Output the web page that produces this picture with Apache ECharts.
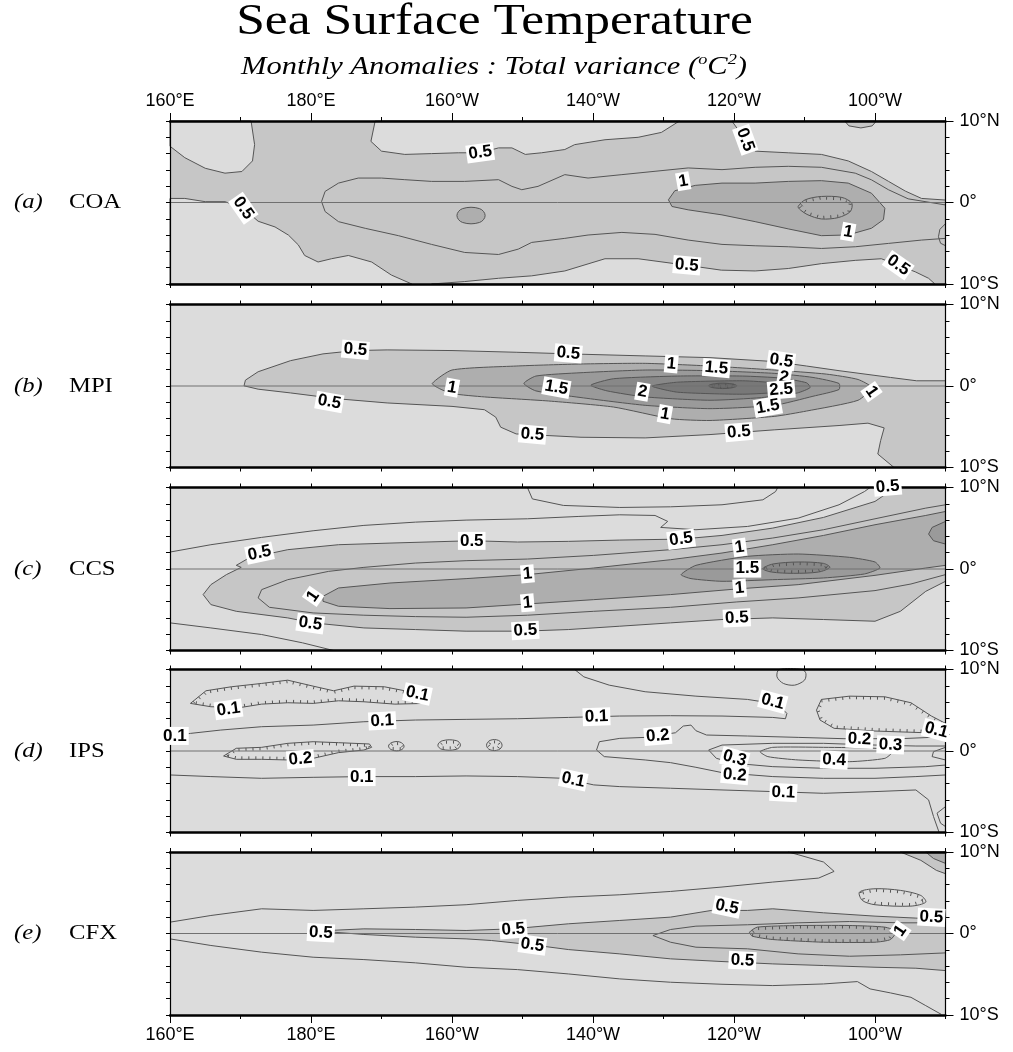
<!DOCTYPE html>
<html>
<head>
<meta charset="utf-8">
<script src="https://cdn.jsdelivr.net/npm/echarts@6/dist/echarts.min.js"></script>
<style>
  html, body { margin: 0; padding: 0; background: #ffffff; }
  #chart { width: 1013px; height: 1052px; }
</style>
</head>
<body>
<div id="chart"></div>
<script>
// ---------- axes ----------
const LON_RANGE = [160, 270];          // 160°E .. 90°W, degrees east
const LAT_RANGE = [-10, 10];
const LON_MAJOR = [160, 180, 200, 220, 240, 260];
const LAT_MAJOR = [-10, 0, 10];
const PANEL_NAMES = ['COA', 'MPI', 'CCS', 'IPS', 'CFX'];
const PANEL_LETTERS = ['(a)', '(b)', '(c)', '(d)', '(e)'];
const PANEL_BOX = [[160, -10], [270, -10], [270, 10], [160, 10]];
const EQUATOR = [[160, 0], [270, 0]];

// ---------- (a) COA : contour regions [lon, lat] ----------
const COA_LOW_NW = [[160,10],[160,6.9],[162.1,5.5],[165,4.2],[167.8,3.6],[170.2,3.8],[171.7,5.1],[172,7.1],[171.5,10]];
const COA_LOW_N = [[189.1,10],[188.5,7.5],[190,6.3],[193.3,5.9],[197.1,6.0],[200.9,6.1],[204,6.1],[206.6,6.7],[208.5,6.7],[210.4,5.9],[212.7,6.1],[216,6.5],[217.4,7.1],[221.7,7.7],[226.4,8.0],[229.7,8.6],[231.9,9.8],[232.3,10]];
const COA_LOW_NE = [[239.7,10],[241.6,7.7],[243,6.3],[247.7,6.1],[252.4,5.9],[256.2,5.1],[259.5,3.8],[261.9,2.6],[264.3,1.4],[266.6,0.5],[270,0.3],[270,10]];
const COA_LOW_SW = [[160,0.5],[162.1,0.5],[165,0.1],[167.8,0.1],[170.4,-0.7],[172.5,-2.3],[174.9,-3.0],[176.8,-4.0],[178.2,-5.2],[179.1,-6.5],[181,-7.3],[182.9,-6.9],[185.3,-6.5],[188.6,-7.3],[191.4,-8.9],[194.3,-10],[160,-10]];
const COA_LOW_S = [[197.1,-10],[201.8,-9.7],[206.6,-9.3],[211.3,-9.0],[216,-8.4],[221.7,-6.9],[226.4,-6.9],[233.3,-7.7],[238.2,-8.3],[243,-8.4],[247.7,-8.1],[252.4,-7.5],[257.2,-7.1],[260.9,-6.9],[263.3,-7.7],[265.7,-8.5],[267.6,-9.3],[268.5,-10]];
const COA_MID_NE = [[255.7,10],[256.3,9.4],[258,9.15],[259.6,9.4],[260.2,10]];
const COA_HIGH = [[230.7,0.33],[231.6,1.44],[234.5,2.1],[238.3,2.38],[243,2.38],[247.7,2.59],[252.4,2.68],[256.2,2.38],[259.5,1.14],[261.4,-0.7],[261.2,-2.1],[259.5,-3.16],[256.2,-3.98],[252.4,-4.07],[247.7,-3.24],[243,-2.35],[238.3,-1.52],[233.5,-0.9],[231.2,-0.49]];
const COA_HIGH_W = [[200.7,-1.6],[201.5,-0.75],[203.9,-0.75],[204.7,-1.6],[203.9,-2.45],[201.5,-2.45]];
const COA_RING = [[249.1,-0.49],[250.1,0.33],[252.4,0.74],[255.3,0.62],[256.7,-0.08],[256.5,-1.11],[254.8,-1.85],[252.4,-2.02],[250.5,-1.52],[249.4,-0.9]];
const COA_MID_LINE = [[270,-0.3],[264.7,0.45],[261.9,1.57],[259.5,2.78],[257.2,3.6],[252.4,4.32],[247.7,4.44],[243,4.32],[238.3,4.03],[233.5,4.24],[228.8,3.83],[224.1,3.42],[219.3,3.0],[216,3.42],[212.2,1.98],[209.9,1.57],[208.5,1.98],[206.6,2.8],[201.8,2.59],[197.1,2.59],[193.3,2.8],[190,3.0],[186.7,3.0],[183.9,2.38],[182,1.36],[181.5,0.12],[182,-1.11],[183.9,-2.35],[187.7,-3.17],[192.4,-4.07],[197.1,-5.14],[201.8,-6.13],[206.6,-6.38],[209.4,-5.72],[211.3,-4.9],[216,-4.4],[219.3,-3.99],[224.1,-3.67],[228.8,-3.91],[233.5,-4.61],[238.3,-5.14],[243,-5.31],[247.7,-5.43],[252.4,-5.64],[257.2,-5.43],[261.9,-5.02],[266.6,-4.61],[270,-4.4]];
const COA_EDGE_LINE = [[270,-2.6],[269.2,-3.3],[269,-4.2],[269.3,-5],[270,-5.3]];
const COA_LABELS = [
  [204.0, 6.1, '0.5', -8], [170.4, -0.7, '0.5', 55], [241.6, 7.7, '0.5', 70],
  [232.8, 2.6, '1', -10], [256.2, -3.6, '1', 10], [233.3, -7.7, '0.5', 5], [263.3, -7.7, '0.5', 35]
];

// ---------- (b) MPI ----------
const MPI_05 = [[270,0.64],[265.9,0.64],[262.2,1.05],[254.9,1.88],[250.3,2.45],[245.7,3.0],[236.6,3.48],[227.4,3.69],[218.3,3.9],[209.1,4.14],[200,4.35],[190.8,4.43],[186.3,4.35],[181.7,3.94],[177.1,3.11],[172.5,1.75],[170.7,0.72],[170.5,0.02],[172.5,-0.39],[177.1,-0.85],[183.5,-1.55],[190.8,-2.08],[200,-2.5],[204.6,-2.91],[206.2,-3.82],[206.9,-5.05],[209.1,-5.88],[218.3,-6.29],[227.4,-6.37],[236.6,-5.96],[245.7,-5.38],[254.9,-4.85],[259,-4.56],[261.3,-5.14],[260.8,-6.7],[260.4,-8.35],[262.7,-10],[270,-10]];
const MPI_10 = [[197.2,0.31],[200,1.96],[209.1,2.45],[218.3,2.7],[227.4,2.78],[236.6,2.45],[245.7,1.96],[253.1,1.46],[257.6,0.8],[259.5,-0.19],[257.6,-1.75],[250.3,-3.07],[245.7,-3.73],[236.6,-4.23],[231.1,-4.02],[222.9,-2.58],[213.7,-1.84],[204.6,-1.34],[200,-0.93],[198.2,-0.31]];
const MPI_15 = [[210.2,0.31],[211.9,1.22],[218.3,1.63],[227.4,1.96],[236.6,1.88],[245.7,1.55],[251.2,1.05],[254.9,0.31],[254.9,-0.43],[251.2,-1.26],[245.7,-2.37],[236.6,-2.78],[227.4,-2.37],[218.3,-1.42],[211.9,-0.6]];
const MPI_20 = [[219.7,0.1],[222.9,0.89],[232,1.22],[241.2,1.22],[246.7,0.97],[250.3,0.39],[250.8,-0.19],[249,-0.85],[243.9,-1.42],[236.6,-1.75],[227.4,-1.34],[222,-0.6]];
const MPI_25 = [[228.4,-0.02],[232,0.47],[241.2,0.64],[245.7,0.39],[248.3,-0.1],[246.7,-0.72],[241.2,-1.01],[232,-0.76]];
const MPI_30 = [[236.4,0.02],[237.4,0.3],[239.4,0.3],[240.4,0.02],[239.4,-0.26],[237.4,-0.26]];
const MPI_LABELS = [
  [186.3, 4.45, '0.5', 5], [216.5, 4.0, '0.5', 5], [231.1, 2.7, '1', 5], [237.5, 2.2, '1.5', 5],
  [246.7, 3.1, '0.5', 8], [247.1, 1.05, '2', 10], [246.7, -0.45, '2.5', -5], [244.8, -2.55, '1.5', -10],
  [230.2, -3.45, '1', 10], [240.7, -5.65, '0.5', -5], [211.4, -5.95, '0.5', 5], [182.6, -1.95, '0.5', 10],
  [200.0, -0.2, '1', 10], [214.8, -0.2, '1.5', 10], [227.0, -0.7, '2', 10], [259.5, -0.7, '1', 55]
];

// ---------- (c) CCS ----------
const CCS_05 = [[169.4,0.45],[171.2,1.35],[176.7,2.37],[183.9,2.98],[191.2,3.18],[202.8,3.47],[209.3,3.31],[216.5,3.39],[223.8,3.55],[232.5,3.67],[238.3,4.12],[245.5,5.02],[252.7,6.33],[260,8.29],[262.9,10],[270,10],[270,-1.51],[267.2,-2.74],[263.6,-5.19],[260,-6.41],[252.7,-6.2],[245.5,-6.0],[238.3,-6.2],[231,-6.61],[223.8,-7.02],[216.5,-7.43],[210,-7.63],[202,-7.63],[194.8,-7.43],[187.5,-7.23],[180.3,-6.61],[176.7,-6.0],[169.4,-5.19],[165.8,-4.37],[164.7,-3.14],[165.8,-1.92],[168,-0.69],[170.1,0.2]];
const CCS_10 = [[181.7,-3.35],[183.9,-2.33],[191.2,-1.72],[202,-1.18],[210.7,-0.69],[220.1,0.12],[231,1.14],[238.3,1.96],[245.5,2.98],[252.7,4.12],[260,5.43],[267.2,6.57],[270,7.06],[270,0.45],[267.2,0.12],[260,-0.78],[249.1,-1.92],[240.4,-2.45],[231,-3.14],[220.1,-3.76],[210.7,-4.29],[202,-4.78],[191.2,-4.86],[183.9,-4.57],[181.7,-3.96]];
const CCS_15 = [[232.5,-0.69],[234.6,0.45],[241.9,1.55],[249.1,1.84],[256.4,1.43],[260,0.86],[260.7,0.12],[258.5,-0.61],[252.7,-1.1],[245.5,-1.31],[238.3,-1.51],[233.9,-1.18]];
const CCS_PEAK = [[244.1,0.04],[245.5,0.61],[249.1,0.86],[252.7,0.69],[253.6,0.2],[252,-0.37],[248.4,-0.53],[245.3,-0.37]];
const CCS_EDGE = [[270,5.84],[268.1,5.1],[267.6,4.29],[268.3,3.47],[270,3.06]];
const CCS_LINE_N = [[160,2.08],[165.8,2.98],[173,3.88],[180.3,4.69],[187.5,5.35],[194.8,5.75],[202,6.0],[210.7,6.16],[218,6.45],[223.8,6.65],[228.8,6.57],[230.6,5.84],[229.6,5.1],[234.6,4.82],[241.9,5.22],[249.1,6.24],[254.9,7.88],[258.5,9.5],[259.3,10]];
const CCS_LINE_TOP = [[210.7,10],[211.4,8.6],[215.8,7.8],[223.8,7.55],[231,7.63],[238.3,7.88],[244.1,8.49],[245.9,9.5],[246.2,10]];
const CCS_LINE_IN = [[270,7.88],[267.2,7.47],[260,6.16],[252.7,4.82],[245.5,3.8],[238.3,2.98],[231,2.37],[220.1,1.67],[210.7,1.22],[202,1.02],[194.8,0.73],[187.5,0.2],[182.5,-0.29],[176.7,-1.31],[173,-2.53],[172.5,-3.55],[174.1,-4.7],[180.3,-5.39],[187.5,-5.67],[194.8,-5.84],[202,-5.92],[210.7,-5.67],[220.1,-5.19],[231,-4.7],[240.4,-4.04],[249.1,-3.55],[260,-2.65],[265.1,-1.84],[270,-0.69]];
const CCS_LINE_SW = [[160,-6.61],[165.8,-7.23],[173,-8.04],[178.8,-9.06],[183.2,-10]];
const CCS_LABELS = [
  [172.7, 1.95, '0.5', -12], [202.8, 3.45, '0.5', 0], [232.5, 3.65, '0.5', -8], [261.8, 10.1, '0.5', -5],
  [240.8, 2.65, '1', -8], [241.9, 0.05, '1.5', 0], [240.8, -2.35, '1', -5], [210.7, -0.6, '1', -5],
  [210.7, -4.15, '1', -5], [180.3, -3.35, '1', -55], [179.9, -6.7, '0.5', 8], [210.4, -7.55, '0.5', -3],
  [240.4, -6.0, '0.5', -3]
];

// ---------- (d) IPS ----------
const IPS_LOOP_NW = [[162.9,5.84],[165.1,7.39],[168.7,7.88],[173,8.29],[176.7,8.69],[180.3,7.96],[183.2,7.39],[186.1,7.96],[190.4,7.88],[193.3,7.39],[196.2,6.65],[196.2,5.84],[191.9,5.75],[187.5,6.04],[183.9,6.16],[180.3,5.84],[176.7,5.92],[173,5.75],[170.1,5.35],[165.8,5.43]];
const IPS_LINE_N = [[160,1.84],[162.9,2.16],[167.2,2.57],[173,2.98],[180.3,3.18],[187.5,3.59],[194.8,3.8],[202,3.88],[209.3,3.96],[216.5,4.12],[223.8,4.29],[231,4.33],[238.3,4.29],[245.5,4.12],[247.3,3.96],[247.5,4.61],[246.2,5.75],[241.9,6.33],[234.6,6.73],[227.4,7.27],[222.3,8.08],[218.7,9.1],[217.4,10]];
const IPS_LOOP_TOP = [[246.4,10],[246.1,9.1],[247,8.29],[248.6,8.08],[250,8.69],[250.2,9.51],[249.7,10]];
const IPS_LOOP_NE = [[270,2.37],[267.2,2.24],[260,2.45],[254.2,2.78],[252.2,3.8],[251.7,5.02],[252.4,6.33],[256.4,6.73],[261.4,6.65],[265.1,5.92],[268,4.29],[270,3.39]];
const IPS_LINE_02 = [[270,1.75],[263.6,1.51],[255.6,1.51],[249.1,1.67],[241.9,1.84],[236.1,1.96],[234.6,2.49],[233.9,3.18],[232.8,3.06],[231.7,2.24],[227.4,1.67],[223.8,1.55],[220.9,1.14],[220.5,0.12],[221.6,-0.69],[227.4,-1.1],[231,-1.43],[234.6,-2.0],[238.3,-2.65],[245.5,-3.14],[252.7,-3.35],[260,-3.35],[265.8,-3.14],[270,-2.94]];
const IPS_LINE_03 = [[270,0.61],[265.8,0.61],[260,0.73],[252.7,0.94],[245.5,0.94],[238.3,0.73],[236.4,0.12],[237.5,-0.9],[240.1,-1.51],[245.5,-1.92],[252.7,-2.12],[260,-2.12],[267.2,-1.92],[270,-1.72]];
const IPS_LOOP_04 = [[243.7,-0.08],[245.5,0.45],[252.7,0.45],[260,0.33],[262.5,-0.08],[261.4,-0.9],[256.4,-1.31],[249.1,-1.1],[244.8,-0.69]];
const IPS_EDGE_EQ = [[270,0.45],[268.3,-0.08],[268.1,-0.69],[270,-1.1]];
const IPS_LINE_S = [[160,-2.94],[165.8,-3.14],[173,-3.35],[180.3,-3.23],[187.5,-3.14],[194.8,-3.14],[202,-3.06],[209.3,-3.14],[215.8,-3.35],[220.1,-4.16],[223.8,-4.37],[231,-4.57],[238.3,-4.78],[245.5,-4.98],[252.7,-5.19],[260,-4.98],[265.8,-4.78],[267.6,-6.0],[268.3,-8.04],[269.1,-10]];
const IPS_EDGE_S = [[270,-6.82],[268.8,-7.63],[269.3,-8.86],[270,-9.27]];
const IPS_LOOP_W = [[167.6,-0.61],[169.4,0.33],[173,0.45],[176.7,0.94],[180.3,1.14],[183.9,1.02],[188.3,0.86],[188.6,0.45],[187.5,0.12],[183.9,-0.2],[180.3,-0.9],[176.7,-1.1],[173,-1.02],[169.4,-1.02]];
const IPS_SPOT_1 = [[191.0,0.6],[191.5,1.05],[192.6,1.1],[193.2,0.6],[192.7,0.1],[191.5,0.12]];
const IPS_SPOT_2 = [[198.0,0.7],[198.6,1.25],[200.6,1.28],[201.2,0.75],[200.6,0.2],[198.6,0.2]];
const IPS_SPOT_3 = [[204.9,0.7],[205.4,1.3],[206.6,1.3],[207.1,0.7],[206.6,0.15],[205.4,0.15]];
const IPS_LABELS = [
  [195.1, 7.0, '0.1', 12], [168.3, 5.1, '0.1', -8], [160.7, 1.85, '0.1', 0], [190.1, 3.7, '0.1', -3],
  [220.5, 4.2, '0.1', -2], [245.5, 6.05, '0.1', 15], [229.2, 1.85, '0.2', -5], [257.8, 1.45, '0.2', 3],
  [262.2, 0.75, '0.3', 3], [268.7, 2.55, '0.1', 15], [240.1, -0.9, '0.3', 15], [240.1, -2.95, '0.2', 5],
  [254.2, -1.1, '0.4', 3], [178.5, -1.0, '0.2', -5], [187.2, -3.2, '0.1', 0], [217.2, -3.55, '0.1', 12],
  [247.0, -5.1, '0.1', 3]
];

// ---------- (e) CFX ----------
const CFX_05 = [[182.5,0.37],[187.5,0.57],[194.8,0.49],[202,0.37],[208.5,0.57],[216.5,1.19],[223.8,1.6],[231,2.01],[236.8,2.83],[241.9,2.83],[245.5,3.03],[252.7,2.54],[260,2.13],[265.8,1.89],[270,1.72],[270,-4.55],[265.8,-4.26],[260,-4.14],[252.7,-3.93],[245.5,-3.73],[238.3,-3.44],[231,-3.11],[223.8,-2.5],[216.5,-1.97],[211.4,-1.39],[205.6,-0.86],[202,-0.66],[194.8,-0.45],[187.5,-0.12],[183.2,0.16]];
const CFX_10 = [[242.2,0.16],[243.3,0.78],[249.1,0.98],[256.4,0.98],[261.4,0.78],[263,0.25],[262.2,-0.74],[260,-1.07],[252.7,-1.07],[245.5,-0.74],[242.6,-0.33]];
const CFX_CORNER = [[263.6,10],[266.5,8.98],[268.7,7.75],[270,7.34],[270,10]];
const CFX_CORNER_IN = [[267.2,10],[268.3,9.2],[270,8.6],[270,10]];
const CFX_LINE_N = [[160,1.39],[165.8,2.21],[173,3.03],[180.3,2.83],[187.5,3.03],[194.8,3.24],[202,3.53],[209.3,4.06],[216.5,4.47],[223.8,4.75],[231,5.16],[238.3,5.7],[245.5,6.31],[252,6.8],[254.2,7.62],[252.7,8.77],[249.1,9.67],[247.7,10]];
const CFX_LINE_S = [[160,-0.66],[165.8,-1.47],[173,-2.29],[180.3,-2.91],[187.5,-3.2],[194.8,-3.6],[202,-4.14],[209.3,-4.43],[216.5,-4.96],[223.8,-5.57],[231,-5.98],[238.3,-6.23],[245.5,-6.39],[252.7,-6.19],[257.5,-5.9],[259.3,-6.8],[262.2,-7.29],[265.1,-7.83],[267.2,-8.85],[269.4,-9.92]];
const CFX_LINE_IN = [[270,1.31],[263.6,1.31],[256.4,1.47],[249.1,1.31],[241.9,1.07],[234.6,0.9],[231,0.49],[228.5,-0.25],[231,-1.07],[234.6,-1.68],[241.9,-1.88],[249.1,-2.5],[256.4,-2.79],[263.6,-2.62],[270,-2.38]];
const CFX_LOOP_NE = [[257.8,5.08],[260,5.49],[263.6,5.29],[266.5,4.67],[267.2,3.85],[265.1,3.36],[260,3.53],[258.2,4.06]];
const CFX_LABELS = [
  [181.4, 0.1, '0.5', 3], [208.7, 0.5, '0.5', -5], [211.4, -1.4, '0.5', 8], [239.0, 3.25, '0.5', 12],
  [241.2, -3.3, '0.5', 3], [268.0, 2.0, '0.5', 3], [263.6, 0.35, '1', -55]
];

// ---------- drawing tables ----------
const SHADES = ['#dcdcdc', '#c6c6c6', '#aeaeae', '#9a9a9a', '#888888', '#787878', '#686868'];
const LINE_COLOR = '#555555';
const LABEL_FONT = '"Liberation Sans Narrow", "Liberation Sans", Arial, sans-serif';
const SERIF = '"Liberation Serif", "Times New Roman", serif';

const PANELS = [
  { shapes: [
      { kind: 'fill', pts: PANEL_BOX, lvl: 1, stroke: 'none' },
      { kind: 'fill', pts: COA_LOW_NW, lvl: 0 }, { kind: 'fill', pts: COA_LOW_N, lvl: 0 },
      { kind: 'fill', pts: COA_LOW_NE, lvl: 0 }, { kind: 'fill', pts: COA_LOW_SW, lvl: 0 },
      { kind: 'fill', pts: COA_LOW_S, lvl: 0 }, { kind: 'fill', pts: COA_MID_NE, lvl: 1 },
      { kind: 'line', pts: COA_MID_LINE }, { kind: 'line', pts: COA_EDGE_LINE },
      { kind: 'fill', pts: COA_HIGH, lvl: 2 }, { kind: 'fill', pts: COA_HIGH_W, lvl: 2, smooth: 0.4 },
      { kind: 'loop', pts: COA_RING, ticks: true, smooth: 0.3 }
    ], labels: COA_LABELS },
  { shapes: [
      { kind: 'fill', pts: PANEL_BOX, lvl: 0, stroke: 'none' },
      { kind: 'fill', pts: MPI_05, lvl: 1 }, { kind: 'fill', pts: MPI_10, lvl: 2, smooth: 0.2 },
      { kind: 'fill', pts: MPI_15, lvl: 3, smooth: 0.2 }, { kind: 'fill', pts: MPI_20, lvl: 4, smooth: 0.2 },
      { kind: 'fill', pts: MPI_25, lvl: 5, smooth: 0.2 }, { kind: 'fill', pts: MPI_30, lvl: 6, smooth: 0.4, ticks: true }
    ], labels: MPI_LABELS },
  { shapes: [
      { kind: 'fill', pts: PANEL_BOX, lvl: 0, stroke: 'none' },
      { kind: 'line', pts: CCS_LINE_N }, { kind: 'line', pts: CCS_LINE_TOP }, { kind: 'line', pts: CCS_LINE_SW },
      { kind: 'fill', pts: CCS_05, lvl: 1 }, { kind: 'line', pts: CCS_LINE_IN },
      { kind: 'fill', pts: CCS_10, lvl: 2 }, { kind: 'fill', pts: CCS_EDGE, lvl: 3 },
      { kind: 'fill', pts: CCS_15, lvl: 3, smooth: 0.2 }, { kind: 'fill', pts: CCS_PEAK, lvl: 4, smooth: 0.3, ticks: true }
    ], labels: CCS_LABELS },
  { shapes: [
      { kind: 'fill', pts: PANEL_BOX, lvl: 0, stroke: 'none' },
      { kind: 'loop', pts: IPS_LOOP_NW, ticks: true }, { kind: 'line', pts: IPS_LINE_N },
      { kind: 'loop', pts: IPS_LOOP_TOP, smooth: 0.3 }, { kind: 'line', pts: IPS_LOOP_NE, ticks: true },
      { kind: 'line', pts: IPS_LINE_02 }, { kind: 'line', pts: IPS_LINE_03 },
      { kind: 'loop', pts: IPS_LOOP_04, smooth: 0.2 }, { kind: 'line', pts: IPS_EDGE_EQ },
      { kind: 'line', pts: IPS_LINE_S }, { kind: 'line', pts: IPS_EDGE_S },
      { kind: 'loop', pts: IPS_LOOP_W, ticks: true }, { kind: 'loop', pts: IPS_SPOT_1, smooth: 0.4, ticks: true },
      { kind: 'loop', pts: IPS_SPOT_2, smooth: 0.4, ticks: true }, { kind: 'loop', pts: IPS_SPOT_3, smooth: 0.4, ticks: true }
    ], labels: IPS_LABELS },
  { shapes: [
      { kind: 'fill', pts: PANEL_BOX, lvl: 0, stroke: 'none' },
      { kind: 'line', pts: CFX_LINE_N }, { kind: 'line', pts: CFX_LINE_S },
      { kind: 'fill', pts: CFX_05, lvl: 1 }, { kind: 'line', pts: CFX_LINE_IN },
      { kind: 'fill', pts: CFX_10, lvl: 2, smooth: 0.2, ticks: true },
      { kind: 'fill', pts: CFX_CORNER, lvl: 1 }, { kind: 'fill', pts: CFX_CORNER_IN, lvl: 2 },
      { kind: 'loop', pts: CFX_LOOP_NE, ticks: true, smooth: 0.3 }
    ], labels: CFX_LABELS }
];
PANELS.forEach(p => p.shapes.push({ kind: 'line', pts: EQUATOR, stroke: '#707070' }));

// ---------- layout ----------
const GRID_LEFT = 170, GRID_W = 775.5, GRID_H = 163;
const GRID_TOPS = [121, 304.5, 487.5, 669.5, 852];

function lonText(v) { return v === 270 ? '' : (v <= 180 ? v + '°E' : (360 - v) + '°W'); }
function latText(v) { return v > 0 ? v + '°N' : (v < 0 ? (-v) + '°S' : '0°'); }

// short hachures on closed contours, pointing inward
function addTicks(children, pts) {
  let cx = 0, cy = 0;
  pts.forEach(p => { cx += p[0]; cy += p[1]; });
  cx /= pts.length; cy /= pts.length;
  const seq = pts.concat([pts[0]]);
  const step = 7, len = 3;
  let rem = step / 2;
  for (let i = 0; i < seq.length - 1; i++) {
    const a = seq[i], b = seq[i + 1];
    const dx = b[0] - a[0], dy = b[1] - a[1];
    const L = Math.hypot(dx, dy);
    if (!L) continue;
    let t = rem;
    while (t <= L) {
      const x = a[0] + dx * t / L, y = a[1] + dy * t / L;
      let nx = -dy / L, ny = dx / L;
      if ((cx - x) * nx + (cy - y) * ny < 0) { nx = -nx; ny = -ny; }
      children.push({ type: 'line', shape: { x1: x, y1: y, x2: x + nx * len, y2: y + ny * len },
                      style: { stroke: LINE_COLOR, lineWidth: 1 } });
      t += step;
    }
    rem = t - L;
  }
}

function shapeRenderer(shapes) {
  return function (params, api) {
    const s = shapes[params.dataIndex];
    const pts = s.pts.map(p => api.coord(p));
    const stroke = s.stroke || LINE_COLOR;
    const children = [];
    if (s.kind === 'fill' || s.kind === 'loop') {
      children.push({ type: 'polygon', shape: { points: pts, smooth: s.smooth || 0 },
        style: { fill: s.kind === 'fill' ? SHADES[s.lvl] : 'none', stroke: stroke, lineWidth: 1 } });
    } else {
      children.push({ type: 'polyline', shape: { points: pts, smooth: s.smooth || 0 },
        style: { fill: 'none', stroke: stroke, lineWidth: 1 } });
    }
    if (s.ticks) addTicks(children, pts);
    return { type: 'group', children: children };
  };
}

function labelRenderer(labels) {
  return function (params, api) {
    const l = labels[params.dataIndex];
    const p = api.coord([l[0], l[1]]);
    return {
      type: 'text', x: p[0], y: p[1], rotation: -(l[3] || 0) * Math.PI / 180,
      style: { text: l[2], fill: '#000', fontSize: 17, fontWeight: 'bold', fontFamily: LABEL_FONT,
               align: 'center', verticalAlign: 'middle', backgroundColor: '#ffffff', padding: [1, 2, 0, 2] }
    };
  };
}

const axisFontStyle = { color: '#000', fontSize: 18, fontFamily: LABEL_FONT };
const grids = [], xAxes = [], yAxes = [], series = [], graphics = [];

PANELS.forEach((panel, i) => {
  grids.push({ left: GRID_LEFT, top: GRID_TOPS[i], width: GRID_W, height: GRID_H, outerBoundsMode: 'none' });
  const xFrame = { show: true, onZero: false, lineStyle: { color: '#000', width: 2.5 } };
  const xi = xAxes.length;
  ['bottom', 'top'].forEach(pos => xAxes.push({
    gridIndex: i, type: 'value', position: pos, min: LON_RANGE[0], max: LON_RANGE[1], interval: 10,
    axisLine: xFrame, axisTick: { show: true, length: 4, lineStyle: { color: '#000', width: 1 } },
    axisLabel: { show: false }, splitLine: { show: false }, z: 10
  }));
  if (i === 0 || i === PANELS.length - 1) {
    xAxes.push({
      gridIndex: i, type: 'value', position: i === 0 ? 'top' : 'bottom',
      min: LON_RANGE[0], max: LON_RANGE[1], interval: 20,
      axisLine: { show: false, onZero: false },
      axisTick: { show: true, length: 8, customValues: LON_MAJOR, lineStyle: { color: '#000', width: 1 } },
      axisLabel: Object.assign({ show: true, margin: 11, customValues: LON_MAJOR, formatter: lonText }, axisFontStyle),
      splitLine: { show: false }, z: 10
    });
  }
  const yi = yAxes.length;
  ['left', 'right'].forEach(pos => yAxes.push({
    gridIndex: i, type: 'value', position: pos, min: LAT_RANGE[0], max: LAT_RANGE[1], interval: 2,
    axisLine: { show: true, onZero: false, lineStyle: { color: '#000', width: 1.2 } },
    axisTick: { show: true, length: 4, lineStyle: { color: '#000', width: 1 } },
    axisLabel: { show: false }, splitLine: { show: false }, z: 10
  }));
  yAxes.push({
    gridIndex: i, type: 'value', position: 'right', min: LAT_RANGE[0], max: LAT_RANGE[1], interval: 10,
    axisLine: { show: false, onZero: false },
    axisTick: { show: true, length: 8, customValues: LAT_MAJOR, lineStyle: { color: '#000', width: 1 } },
    axisLabel: Object.assign({ show: true, margin: 14, customValues: LAT_MAJOR, formatter: latText }, axisFontStyle),
    splitLine: { show: false }, z: 10
  });

  series.push({
    type: 'custom', coordinateSystem: 'cartesian2d', xAxisIndex: xi, yAxisIndex: yi, silent: true, z: 2,
    data: panel.shapes.map(s => s.pts[0]), renderItem: shapeRenderer(panel.shapes)
  });
  series.push({
    type: 'custom', coordinateSystem: 'cartesian2d', xAxisIndex: xi, yAxisIndex: yi, silent: true, z: 20,
    data: panel.labels.map(l => [l[0], l[1]]), renderItem: labelRenderer(panel.labels)
  });

  const midY = GRID_TOPS[i] + GRID_H / 2;
  graphics.push({ type: 'text', x: 14, y: midY, scaleX: 1.12,
    style: { text: PANEL_LETTERS[i], font: 'italic 22px ' + SERIF, fill: '#000', align: 'left', verticalAlign: 'middle' } });
  graphics.push({ type: 'text', x: 69, y: midY, scaleX: 1.12,
    style: { text: PANEL_NAMES[i], font: '22px ' + SERIF, fill: '#000', align: 'left', verticalAlign: 'middle' } });
});

graphics.push({ type: 'text', x: 494.5, y: 22.5, scaleX: 1.17,
  style: { text: 'Sea Surface Temperature', font: '44px ' + SERIF, fill: '#000', align: 'center', verticalAlign: 'middle' } });
graphics.push({ type: 'text', x: 494, y: 67, scaleX: 1.22,
  style: {
    text: '{i|Monthly Anomalies : Total variance (}{s|o}{i|C}{s|2}{i|)}',
    align: 'center', verticalAlign: 'middle',
    rich: {
      i: { fontFamily: SERIF, fontStyle: 'italic', fontSize: 25, lineHeight: 28, fill: '#000' },
      s: { fontFamily: SERIF, fontStyle: 'italic', fontSize: 15, lineHeight: 15, verticalAlign: 'top', fill: '#000' }
    }
  } });

const chart = echarts.init(document.getElementById('chart'), null, { renderer: 'canvas' });
chart.setOption({
  animation: false,
  backgroundColor: '#ffffff',
  grid: grids,
  xAxis: xAxes,
  yAxis: yAxes,
  series: series,
  graphic: graphics
});
</script>
</body>
</html>
